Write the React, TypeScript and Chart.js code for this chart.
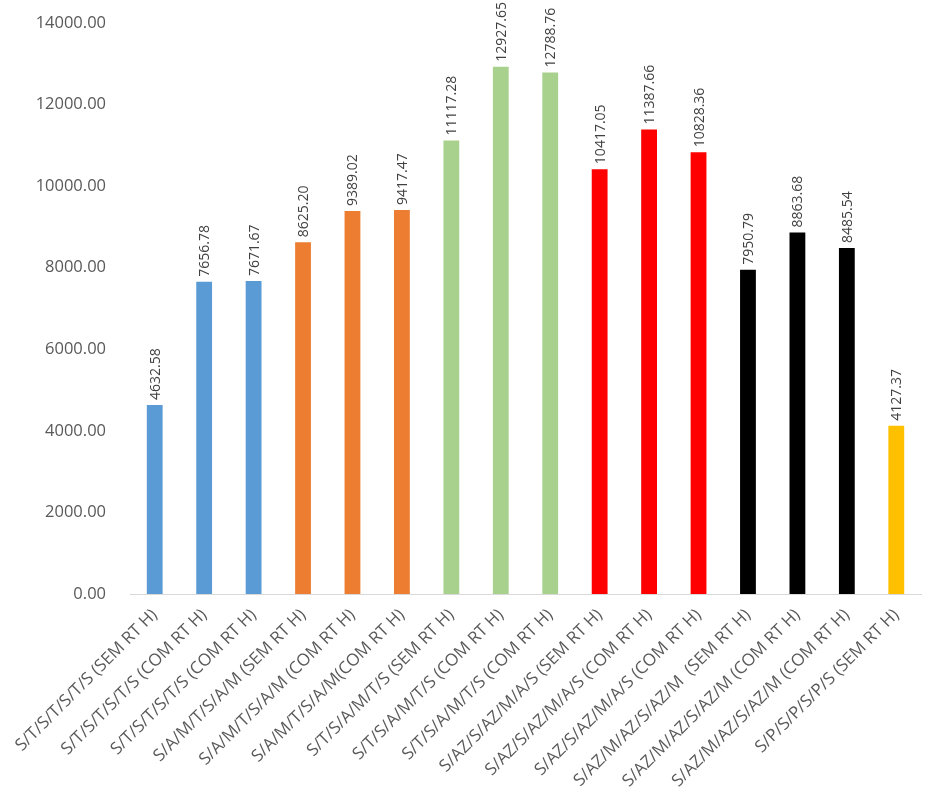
import React, { useEffect, useRef } from "react";
import { Chart, registerables } from "chart.js";

Chart.register(...registerables);

const categories = [
  "S/T/S/T/S/T/S (SEM RT H)",
  "S/T/S/T/S/T/S (COM RT H)",
  "S/T/S/T/S/T/S (COM RT H)",
  "S/A/M/T/S/A/M (SEM RT H)",
  "S/A/M/T/S/A/M (COM RT H)",
  "S/A/M/T/S/A/M(COM RT H)",
  "S/T/S/A/M/T/S (SEM RT H)",
  "S/T/S/A/M/T/S (COM RT H)",
  "S/T/S/A/M/T/S (COM RT H)",
  "S/AZ/S/AZ/M/A/S (SEM RT H)",
  "S/AZ/S/AZ/M/A/S (COM RT H)",
  "S/AZ/S/AZ/M/A/S (COM RT H)",
  "S/AZ/M/AZ/S/AZ/M  (SEM RT H)",
  "S/AZ/M/AZ/S/AZ/M (COM RT H)",
  "S/AZ/M/AZ/S/AZ/M (COM RT H)",
  "S/P/S/P/S/P/S (SEM RT H)",
];

const values = [
  4632.58, 7656.78, 7671.67, 8625.2, 9389.02, 9417.47, 11117.28, 12927.65,
  12788.76, 10417.05, 11387.66, 10828.36, 7950.79, 8863.68, 8485.54, 4127.37,
];

const barColors = [
  "#5B9BD5", "#5B9BD5", "#5B9BD5",
  "#ED7D31", "#ED7D31", "#ED7D31",
  "#A9D18E", "#A9D18E", "#A9D18E",
  "#FF0000", "#FF0000", "#FF0000",
  "#000000", "#000000", "#000000",
  "#FFC000",
];

const yTicks = [0, 2000, 4000, 6000, 8000, 10000, 12000, 14000];

const FONT = "'Open Sans', 'Liberation Sans', sans-serif";

const valueLabels = {
  id: "valueLabels",
  afterDatasetsDraw(chart: any) {
    const ctx = chart.ctx;
    const meta = chart.getDatasetMeta(0);
    ctx.save();
    ctx.fillStyle = "#404040";
    ctx.font = `14px ${FONT}`;
    ctx.textAlign = "left";
    ctx.textBaseline = "middle";
    meta.data.forEach((bar: any, i: number) => {
      ctx.save();
      ctx.translate(bar.x + 1, bar.y - 5);
      ctx.rotate(-Math.PI / 2);
      ctx.fillText(values[i].toFixed(2), 0, 0);
      ctx.restore();
    });
    ctx.restore();
  },
};

export default function App() {
  const ref = useRef<HTMLCanvasElement | null>(null);
  useEffect(() => {
    if (!ref.current) return;
    const chart = new Chart(ref.current, {
      type: "bar",
      data: {
        labels: categories,
        datasets: [
          {
            data: values,
            backgroundColor: barColors,
            barPercentage: 0.32,
            categoryPercentage: 1,
          },
        ],
      },
      options: {
        animation: false,
        responsive: true,
        maintainAspectRatio: false,
        layout: { padding: { top: 23, right: 23, bottom: 0, left: 0 } },
        plugins: { legend: { display: false }, tooltip: { enabled: false } },
        scales: {
          x: {
            grid: { display: false },
            border: { display: true, color: "#D9D9D9", width: 1 },
            ticks: {
              color: "#595959",
              font: { size: 17, family: FONT },
              maxRotation: 45,
              minRotation: 45,
              autoSkip: false,
              padding: 3,
            },
            afterFit(scale: any) {
              scale.height = 216;
            },
          },
          y: {
            min: 0,
            max: 14000,
            grid: { display: false },
            border: { display: false },
            afterBuildTicks(scale: any) {
              scale.ticks = yTicks.map((v) => ({ value: v }));
            },
            ticks: {
              color: "#595959",
              font: { size: 16.5, family: FONT },
              padding: 16,
              callback: (v: any) => Number(v).toFixed(2),
            },
            afterFit(scale: any) {
              scale.width = 130;
              scale.paddingTop = 0;
              scale.paddingBottom = 0;
            },
          },
        },
      },
      plugins: [valueLabels],
    });
    return () => chart.destroy();
  }, []);
  return (
    <div style={{ position: "absolute", left: 0, top: 0, width: 944, height: 810 }}>
      <canvas ref={ref} />
    </div>
  );
}
